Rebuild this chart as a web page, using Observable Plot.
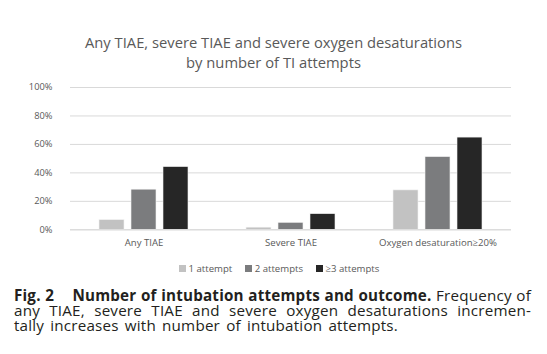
<!DOCTYPE html>
<html><head><meta charset="utf-8">
<script src="https://cdn.jsdelivr.net/npm/d3@7"></script>
<script src="https://cdn.jsdelivr.net/npm/@observablehq/plot@0.6"></script>
<style>
body{margin:0;width:547px;height:354px;background:#fff;position:relative;overflow:hidden;font-family:"Open Sans",sans-serif}
#title{position:absolute;top:31.5px;left:0;width:547px;text-align:center;color:#595959;font-size:14.75px;line-height:20px;font-family:"Open Sans",sans-serif}
#chart{position:absolute;top:78px;left:0}
#legend{position:absolute;top:262.5px;left:179px;font-size:9.6px;color:#595959;display:flex;gap:13px;line-height:12px}
#legend span.sw{display:inline-block;width:7px;height:7px;margin-right:2.5px;vertical-align:0px}
#caption{position:absolute;top:287.5px;left:14px;width:517px;font-size:15.2px;line-height:15.3px;letter-spacing:0.2px;color:#231f20;font-family:"Open Sans",sans-serif}
#caption div{height:15.3px;white-space:nowrap}
#caption div.j{text-align:justify;text-align-last:justify}
#caption div.l{word-spacing:2px}
</style></head>
<body>
<div id="title">Any TIAE, severe TIAE and severe oxygen desaturations<br>by number of TI attempts</div>
<div id="chart"></div>
<div id="legend"></div>
<div id="caption">
<div class="j"><b>Fig. 2&nbsp;&nbsp;&nbsp; Number of intubation attempts and outcome.</b> Frequency of</div>
<div class="j">any TIAE, severe TIAE and severe oxygen desaturations incremen-</div>
<div class="l">tally increases with number of intubation attempts.</div>
</div>
<script>
const categories = ["Any TIAE", "Severe TIAE", "Oxygen desaturation≥20%"];
const seriesNames = ["1 attempt", "2 attempts", "≥3 attempts"];
const oneAttempt = [6.8, 1.5, 27.7];
const twoAttempts = [28.2, 4.9, 51.1];
const threePlusAttempts = [44.1, 11.0, 64.8];
const yTicks = [0, 20, 40, 60, 80, 100];
const colors = ["#c2c2c2", "#7b7c7e", "#262626"];

const seriesValues = [oneAttempt, twoAttempts, threePlusAttempts];
const data = [];
categories.forEach((c, i) => seriesNames.forEach((s, j) => data.push({category: c, series: s, value: seriesValues[j][i]})));

const chart = Plot.plot({
  width: 547,
  height: 174,
  marginTop: 9,
  marginBottom: 22.7,
  marginLeft: 69,
  marginRight: 36,
  style: {fontFamily: "'Open Sans', sans-serif", fontSize: "9.3px", color: "#595959", background: "transparent"},
  fx: {domain: categories, padding: 0, label: null, axis: null},
  x: {domain: seriesNames, paddingInner: 0.214, paddingOuter: 0.86, axis: null},
  y: {domain: [0, 100], ticks: yTicks, tickFormat: d => d + "%", label: null, tickSize: 0, tickPadding: 18},
  color: {domain: seriesNames, range: colors},
  marks: [
    Plot.gridY(yTicks, {stroke: "#d9d9d9", strokeOpacity: 1, strokeWidth: 1}),
    Plot.barY(data, {fx: "category", x: "series", y: "value", fill: "series", stroke: "#f2f2f2", strokeWidth: 0.6}),
    Plot.ruleY([0], {stroke: "#d9d9d9", strokeWidth: 1}),
    Plot.axisFx({anchor: "bottom", tickSize: 0, tickPadding: 9, fontSize: 9.6, label: null})
  ]
});
document.getElementById("chart").appendChild(chart);

const legend = document.getElementById("legend");
seriesNames.forEach((s, j) => {
  const item = document.createElement("span");
  const sw = document.createElement("span");
  sw.className = "sw";
  sw.style.background = colors[j];
  item.appendChild(sw);
  item.appendChild(document.createTextNode(s));
  legend.appendChild(item);
});
</script>
</body></html>
